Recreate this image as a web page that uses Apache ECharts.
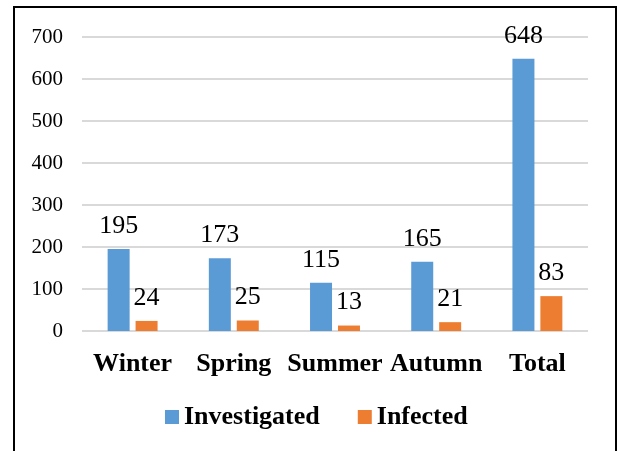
<!DOCTYPE html>
<html>
<head>
<meta charset="utf-8">
<script src="https://cdn.jsdelivr.net/npm/echarts@6/dist/echarts.min.js"></script>
<style>
  html, body { margin: 0; padding: 0; background: #fff; }
  #frame {
    position: absolute; left: 13px; top: 6px; width: 604px; height: 460px;
    border: 2px solid #000; box-sizing: border-box;
  }
  #chart { position: absolute; left: 0; top: 0; width: 620px; height: 451px; }
</style>
</head>
<body>
<div id="frame"></div>
<div id="chart"></div>
<script>
// data
const categories = ["Winter", "Spring", "Summer", "Autumn", "Total"];
const investigated = [195, 173, 115, 165, 648];
const infected = [24, 25, 13, 21, 83];
const yTicks = { min: 0, max: 700, interval: 100 };

const serif = "Liberation Serif";

function makeSeries(name, values, color) {
  return {
    name: name,
    type: "bar",
    data: values,
    barWidth: 22,
    barGap: "27%",
    itemStyle: { color: color },
    label: {
      show: true,
      position: "top",
      distance: 10,
      color: "#000",
      fontFamily: serif,
      fontSize: 26
    }
  };
}

const myChart = echarts.init(document.getElementById("chart"), null, { renderer: "canvas" });
myChart.setOption({
  animation: false,
  grid: { left: 82, right: 32, top: 37, bottom: 120 },
  legend: {
    bottom: 16,
    left: 160,
    itemWidth: 14,
    itemHeight: 14,
    itemGap: 38,
    icon: "rect",
    textStyle: { fontFamily: serif, fontSize: 26, fontWeight: "bold", color: "#000" },
    data: ["Investigated", "Infected"]
  },
  xAxis: {
    type: "category",
    data: categories,
    axisLine: { show: false },
    axisTick: { show: false },
    axisLabel: {
      color: "#000",
      fontFamily: serif,
      fontSize: 26,
      fontWeight: "bold",
      margin: 20,
      interval: 0
    }
  },
  yAxis: {
    type: "value",
    min: yTicks.min,
    max: yTicks.max,
    interval: yTicks.interval,
    axisLine: { show: false },
    axisTick: { show: false },
    splitLine: { lineStyle: { color: "#d9d9d9", width: 2 } },
    axisLabel: { color: "#000", fontFamily: serif, fontSize: 21, margin: 19 }
  },
  series: [
    makeSeries("Investigated", investigated, "#5b9bd5"),
    makeSeries("Infected", infected, "#ed7d31")
  ]
});
</script>
</body>
</html>
